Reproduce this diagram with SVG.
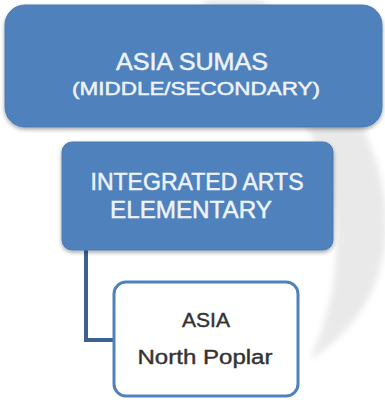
<svg xmlns="http://www.w3.org/2000/svg" width="385" height="400" viewBox="0 0 385 400">
<defs>
<filter id="sh" x="-10%" y="-10%" width="120%" height="130%">
<feGaussianBlur in="SourceAlpha" stdDeviation="2"/>
<feOffset dx="0" dy="2" result="b"/>
<feComponentTransfer><feFuncA type="linear" slope="0.35"/></feComponentTransfer>
<feMerge><feMergeNode/><feMergeNode in="SourceGraphic"/></feMerge>
</filter>
<filter id="soft"><feGaussianBlur stdDeviation="3"/></filter>
</defs>
<style>
.blue{fill:#4f81bd;stroke:#4a7ab3;stroke-width:1}
.wt{fill:#eef3fa;stroke:#eef3fa;stroke-width:0.5;font-family:"Liberation Sans",Arial,sans-serif;text-anchor:middle}
.dt{fill:#333333;stroke:#333333;stroke-width:0.4;font-family:"Liberation Sans",Arial,sans-serif;text-anchor:middle}
.conn{fill:none;stroke:#3c6090;stroke-width:4}
</style>
<rect width="385" height="400" fill="#ffffff"/>
<path d="M260 0 C335 60 390 150 386 232 C383 292 352 332 310 360 C328 320 338 280 336 232 C333 150 285 70 200 0 Z" fill="#e9e9e9" filter="url(#soft)"/>
<g id="connectors">
<path class="conn" d="M86 250 V340 H114"/>
</g>
<g id="node-asia-sumas">
<rect class="blue" x="5" y="5" width="377" height="122" rx="20" filter="url(#sh)"/>
<text class="wt" x="192" y="70" font-size="24" textLength="152" lengthAdjust="spacingAndGlyphs">ASIA SUMAS</text>
<text class="wt" x="196" y="95" font-size="19" textLength="248" lengthAdjust="spacingAndGlyphs">(MIDDLE/SECONDARY)</text>
</g>
<g id="node-integrated-arts">
<rect class="blue" x="62" y="142" width="271" height="108" rx="10" filter="url(#sh)"/>
<text class="wt" x="197" y="190" font-size="24" textLength="213" lengthAdjust="spacingAndGlyphs">INTEGRATED ARTS</text>
<text class="wt" x="191" y="218" font-size="24" textLength="162" lengthAdjust="spacingAndGlyphs">ELEMENTARY</text>
</g>
<g id="node-north-poplar">
<rect x="114" y="282" width="184" height="114" rx="12" fill="#ffffff" stroke="#4f81bd" stroke-width="3"/>
<text class="dt" x="206" y="327" font-size="20" textLength="48" lengthAdjust="spacingAndGlyphs">ASIA</text>
<text class="dt" x="205" y="364" font-size="20" textLength="135" lengthAdjust="spacingAndGlyphs">North Poplar</text>
</g>
</svg>
